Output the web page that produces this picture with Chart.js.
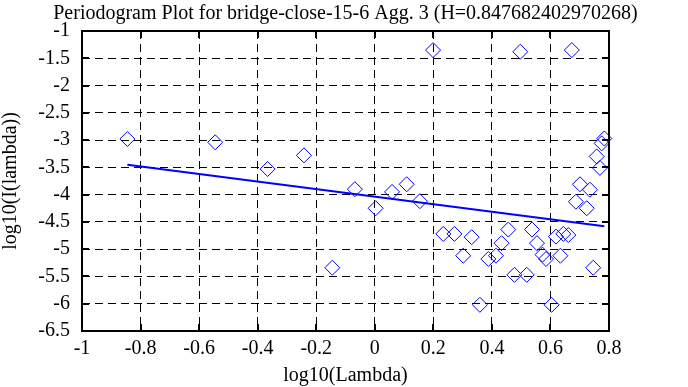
<!DOCTYPE html>
<html><head><meta charset="utf-8">
<style>html,body{margin:0;padding:0;background:#fff;}#wrap{width:688px;height:387px;}</style>
<script src="https://cdn.jsdelivr.net/npm/chart.js@4/dist/chart.umd.min.js"></script>
</head><body><div id="wrap"><canvas id="c" width="688" height="387"></canvas></div>
<script>
const titleText = "Periodogram Plot for bridge-close-15-6 Agg. 3 (H=0.847682402970268)";
const xAxisLabel = "log10(Lambda)";
const yAxisLabel = "log10(I(lambda))";
const logLambda = [-0.845,-0.545,-0.366,-0.242,-0.145,-0.068,0.003,0.059,0.109,0.154,0.199,0.234,0.272,0.302,0.331,0.359,0.388,0.414,0.433,0.456,0.477,0.497,0.519,0.537,0.554,0.573,0.585,0.604,0.619,0.634,0.644,0.661,0.673,0.687,0.701,0.724,0.735,0.746,0.758,0.769,0.775,0.784];
const logPeriodogram = [-2.98,-3.04,-3.53,-3.28,-5.34,-3.90,-4.25,-3.95,-3.81,-4.12,-1.35,-4.72,-4.72,-5.12,-4.78,-6.02,-5.18,-5.12,-4.89,-4.64,-5.47,-1.38,-5.47,-4.64,-4.89,-5.10,-5.18,-6.02,-4.77,-5.12,-4.72,-4.74,-1.35,-4.13,-3.81,-4.25,-3.91,-5.34,-3.30,-3.51,-3.06,-2.97];
const fitX = [-0.845, 0.784];
const fitY = [-3.45, -4.58];
const xTicks = [-1,-0.8,-0.6,-0.4,-0.2,0,0.2,0.4,0.6,0.8];
const yTicks = [-6.5,-6,-5.5,-5,-4.5,-4,-3.5,-3,-2.5,-2,-1.5,-1];

const FONT = "'Liberation Serif', 'Times New Roman', serif";
const BLUE = '#0000ff';

const framePlugin = {
  id: 'frame',
  afterDraw(chart) {
    const ctx = chart.ctx, a = chart.chartArea;
    const xs = chart.scales.x, ys = chart.scales.y;
    ctx.save();
    ctx.strokeStyle = '#000';
    ctx.lineWidth = 2;
    ctx.setLineDash([]);
    ctx.beginPath();
    const L = 7;
    xTicks.forEach(v => {
      const px = Math.round(xs.getPixelForValue(v));
      ctx.moveTo(px, a.bottom); ctx.lineTo(px, a.bottom - L);
      ctx.moveTo(px, a.top); ctx.lineTo(px, a.top + L);
    });
    yTicks.forEach(v => {
      const py = Math.round(ys.getPixelForValue(v));
      ctx.moveTo(a.left, py); ctx.lineTo(a.left + L, py);
      ctx.moveTo(a.right, py); ctx.lineTo(a.right - L, py);
    });
    ctx.stroke();
    ctx.strokeRect(a.left, a.top, a.right - a.left, a.bottom - a.top);
    ctx.fillStyle = '#000';
    ctx.font = '20px ' + FONT;
    ctx.textAlign = 'center';
    ctx.textBaseline = 'alphabetic';
    ctx.fillText(titleText, (a.left + a.right) / 2, 19);
    ctx.restore();
  }
};

new Chart(document.getElementById('c'), {
  type: 'scatter',
  data: {
    datasets: [
      {
        label: 'periodogram',
        data: logLambda.map((x, i) => ({x: x, y: logPeriodogram[i]})),
        pointStyle: 'rectRot',
        pointRadius: 7.5,
        pointBorderWidth: 1,
        borderColor: BLUE,
        backgroundColor: 'rgba(0,0,0,0)',
        clip: false
      },
      {
        label: 'fit',
        type: 'line',
        data: fitX.map((x, i) => ({x: x, y: fitY[i]})),
        borderColor: BLUE,
        borderWidth: 2,
        pointRadius: 0,
        fill: false
      }
    ]
  },
  options: {
    responsive: false,
    devicePixelRatio: 1,
    animation: false,
    layout: {padding: {top: 31, right: 79, left: 0, bottom: 0}},
    plugins: {legend: {display: false}, tooltip: {enabled: false}, title: {display: false}},
    scales: {
      x: {
        type: 'linear', min: -1, max: 0.8,
        afterBuildTicks: s => { s.ticks = xTicks.map(v => ({value: v})); },
        afterFit: s => { s.height = 56; },
        grid: {color: '#000', lineWidth: 1, drawTicks: false},
        border: {display: false, dash: [8, 5]},
        ticks: {color: '#000', padding: 6, font: {family: FONT, size: 20}, maxRotation: 0, autoSkip: false,
                callback: v => String(Math.round(v * 10) / 10)},
        title: {display: true, text: xAxisLabel, color: '#000', font: {family: FONT, size: 20, lineHeight: 1}, padding: {top: 0, bottom: 1}}
      },
      y: {
        type: 'linear', min: -6.5, max: -1,
        afterBuildTicks: s => { s.ticks = yTicks.map(v => ({value: v})); },
        afterFit: s => { s.width = 82; },
        grid: {color: '#000', lineWidth: 1, drawTicks: false},
        border: {display: false, dash: [8, 5]},
        ticks: {color: '#000', padding: 12, font: {family: FONT, size: 20}, autoSkip: false,
                callback: v => String(Math.round(v * 10) / 10)},
        title: {display: true, text: yAxisLabel, color: '#000', font: {family: FONT, size: 20, lineHeight: 1}, padding: {top: 1, bottom: 0}}
      }
    }
  },
  plugins: [framePlugin]
});
</script>
</body></html>
